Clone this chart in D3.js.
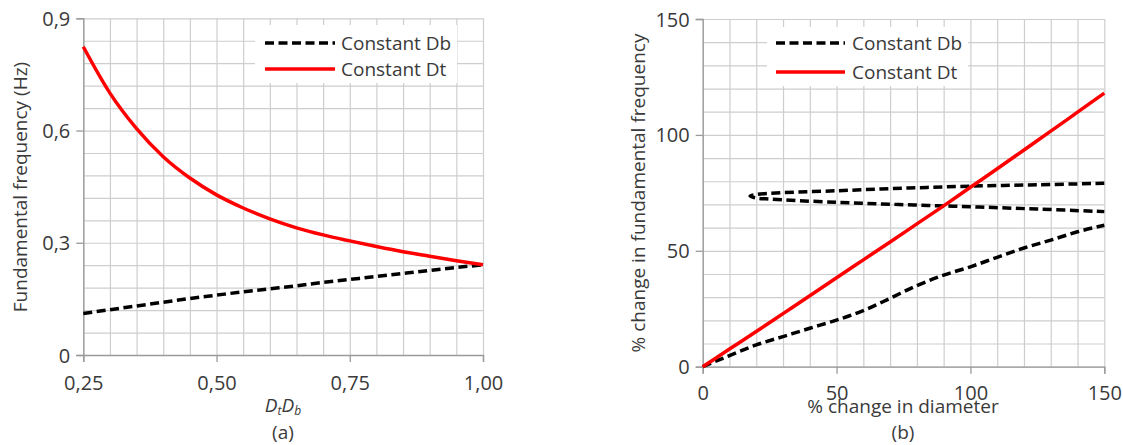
<!DOCTYPE html>
<html>
<head>
<meta charset="utf-8">
<script src="https://cdn.jsdelivr.net/npm/d3@7"></script>
<style>
  html, body { margin: 0; padding: 0; background: #fff; }
  svg text { font-family: "Open Sans", sans-serif; fill: #3a3a3a; }
</style>
</head>
<body>
<svg id="chart" width="1123" height="445"></svg>
<script>
// ---------- Data: panel (a) ----------
const ratioX = [0.25, 0.30, 0.35, 0.40, 0.45, 0.50, 0.55, 0.60, 0.65, 0.70, 0.75, 0.80, 0.85, 0.90, 0.95, 1.00];
const freqConstDt = [0.824, 0.700, 0.605, 0.530, 0.473, 0.428, 0.393, 0.364, 0.340, 0.321, 0.305, 0.290, 0.276, 0.264, 0.252, 0.241];
const freqConstDb = [0.111, 0.121, 0.131, 0.141, 0.151, 0.160, 0.169, 0.177, 0.185, 0.194, 0.202, 0.210, 0.218, 0.226, 0.234, 0.241];
const aTickLabelsX = ["0,25", "0,50", "0,75", "1,00"];
const aTickValuesX = [0.25, 0.50, 0.75, 1.00];
const aTickLabelsY = ["0", "0,3", "0,6", "0,9"];
const aTickValuesY = [0, 0.3, 0.6, 0.9];

// ---------- Data: panel (b) ----------
const diamChange = [0, 10, 20, 30, 40, 50, 60, 70, 80, 90, 100, 110, 120, 130, 140, 150];
const pctConstDt = [0, 7.6, 15.2, 22.9, 30.6, 38.4, 46.1, 53.8, 61.6, 69.4, 77.4, 85.4, 93.5, 101.6, 109.8, 118.0];
const pctConstDbLower = [0, 4.8, 9.4, 13.0, 16.6, 20.1, 24.2, 29.5, 35.0, 39.5, 43.1, 47.2, 51.2, 54.6, 58.2, 61.0];
const loopX = [150, 125, 100, 75, 50, 25, 20, 17.7, 20, 25, 50, 75, 100, 125, 150];
const loopY = [79.1, 78.5, 77.9, 77.0, 75.9, 74.8, 74.3, 73.6, 72.8, 72.3, 70.9, 69.9, 69.0, 68.0, 66.9];
const bTicks = [0, 50, 100, 150];

const legendNames = ["Constant Db", "Constant Dt"];

const svg = d3.select("#chart");
const GRID = "#cecece", AXIS = "#9a9a9a", RED = "#ff0000", BLK = "#000000";

function panel(cfg) {
  const x = d3.scaleLinear().domain(cfg.xDom).range([cfg.left, cfg.right]);
  const y = d3.scaleLinear().domain(cfg.yDom).range([cfg.bottom, cfg.top]);
  const g = svg.append("g");

  // grid
  const gx = g.append("g").attr("transform", `translate(0,${cfg.bottom})`)
    .call(d3.axisBottom(x).tickValues(cfg.gridX).tickSize(-(cfg.bottom - cfg.top)).tickFormat(""));
  const gy = g.append("g").attr("transform", `translate(${cfg.left},0)`)
    .call(d3.axisLeft(y).tickValues(cfg.gridY).tickSize(-(cfg.right - cfg.left)).tickFormat(""));
  [gx, gy].forEach(s => { s.select(".domain").remove(); s.selectAll("line").attr("stroke", GRID).attr("stroke-width", 1.2); });

  // axes
  const ax = g.append("g").attr("transform", `translate(0,${cfg.bottom})`)
    .call(d3.axisBottom(x).tickValues(cfg.xTicks).tickSize(7).tickFormat((d, i) => cfg.xLabels[i]));
  const ay = g.append("g").attr("transform", `translate(${cfg.left},0)`)
    .call(d3.axisLeft(y).tickValues(cfg.yTicks).tickSize(7).tickFormat((d, i) => cfg.yLabels[i]));
  [ax, ay].forEach(s => {
    s.select(".domain").attr("stroke", AXIS).attr("stroke-width", 1.3);
    s.selectAll("line").attr("stroke", AXIS).attr("stroke-width", 1.3);
    s.selectAll("text").attr("font-family", "Open Sans").attr("font-size", 20).attr("fill", "#3a3a3a");
  });
  ax.selectAll("text").attr("dy", null).attr("y", cfg.xLabelY - cfg.bottom).attr("dominant-baseline", "alphabetic");
  ay.selectAll("text").attr("x", -13).attr("dy", "0.35em");

  return { g, x, y };
}

// ---------- Panel (a) ----------
const A = panel({
  xDom: [0.25, 1], yDom: [0, 0.9], left: 83.3, right: 483, top: 18.3, bottom: 355,
  gridX: d3.range(0, 16).map(i => 0.25 + i * 0.05), gridY: d3.range(0, 16).map(i => i * 0.06),
  xTicks: aTickValuesX, xLabels: aTickLabelsX, yTicks: aTickValuesY, yLabels: aTickLabelsY, xLabelY: 390
});
const lineA = d3.line().x((d, i) => A.x(ratioX[i])).y(d => A.y(d)).curve(d3.curveMonotoneX);
A.g.append("path").attr("d", lineA(freqConstDb)).attr("fill", "none").attr("stroke", BLK)
  .attr("stroke-width", 3.5).attr("stroke-dasharray", "9,4.5");
A.g.append("path").attr("d", lineA(freqConstDt)).attr("fill", "none").attr("stroke", RED)
  .attr("stroke-width", 3.5);

// ---------- Panel (b) ----------
const B = panel({
  xDom: [0, 150], yDom: [0, 150], left: 702.7, right: 1104.3, top: 19, bottom: 366.7,
  gridX: d3.range(0, 151, 10), gridY: d3.range(0, 151, 10),
  xTicks: bTicks, xLabels: bTicks.map(String), yTicks: bTicks, yLabels: bTicks.map(String), xLabelY: 400
});
const lineB = d3.line().x((d, i) => B.x(diamChange[i])).y(d => B.y(d)).curve(d3.curveMonotoneX);
B.g.append("path").attr("d", lineB(pctConstDbLower)).attr("fill", "none").attr("stroke", BLK)
  .attr("stroke-width", 3.5).attr("stroke-dasharray", "9,4.5");
const loopPts = loopX.map((v, i) => [v, loopY[i]]);
B.g.append("path").attr("d", d3.line().x(d => B.x(d[0])).y(d => B.y(d[1])).curve(d3.curveCatmullRom)(loopPts))
  .attr("fill", "none").attr("stroke", BLK).attr("stroke-width", 3.5).attr("stroke-dasharray", "9,4.5");
B.g.append("path").attr("d", lineB(pctConstDt)).attr("fill", "none").attr("stroke", RED)
  .attr("stroke-width", 3.5);

// ---------- Legends ----------
function legend(bx, by, bw, bh, x1, x2, ys, tx) {
  const g = svg.append("g");
  g.append("rect").attr("x", bx).attr("y", by).attr("width", bw).attr("height", bh).attr("fill", "#fff");
  legendNames.forEach((name, i) => {
    const l = g.append("line").attr("x1", x1).attr("x2", x2).attr("y1", ys[i]).attr("y2", ys[i])
      .attr("stroke", i === 0 ? BLK : RED).attr("stroke-width", 3.5);
    if (i === 0) l.attr("stroke-dasharray", "9,4.5");
    g.append("text").attr("x", tx).attr("y", ys[i]).attr("dy", "0.36em").attr("font-size", 19).text(name);
  });
}
legend(255, 25, 202, 58, 265, 335, [43, 69], 341);
legend(767, 27, 201, 59, 776, 845, [43, 72], 852);

// ---------- Titles ----------
svg.append("text").attr("transform", "translate(27,187) rotate(-90)").attr("text-anchor", "middle")
  .attr("font-size", 19).text("Fundamental frequency (Hz)");
const xt = svg.append("text").attr("x", 283).attr("y", 412).attr("text-anchor", "middle")
  .attr("font-size", 19).attr("font-style", "italic");
xt.append("tspan").text("D");
xt.append("tspan").attr("font-size", 12).attr("dy", 3).text("t");
xt.append("tspan").attr("dy", -3).text("D");
xt.append("tspan").attr("font-size", 12).attr("dy", 3).text("b");
svg.append("text").attr("x", 283).attr("y", 439).attr("text-anchor", "middle").attr("font-size", 19).text("(a)");

svg.append("text").attr("transform", "translate(645,193) rotate(-90)").attr("text-anchor", "middle")
  .attr("font-size", 19).text("% change in fundamental frequency");
svg.append("text").attr("x", 903).attr("y", 413).attr("text-anchor", "middle").attr("font-size", 19).text("% change in diameter");
svg.append("text").attr("x", 903).attr("y", 439).attr("text-anchor", "middle").attr("font-size", 19).text("(b)");
</script>
</body>
</html>
